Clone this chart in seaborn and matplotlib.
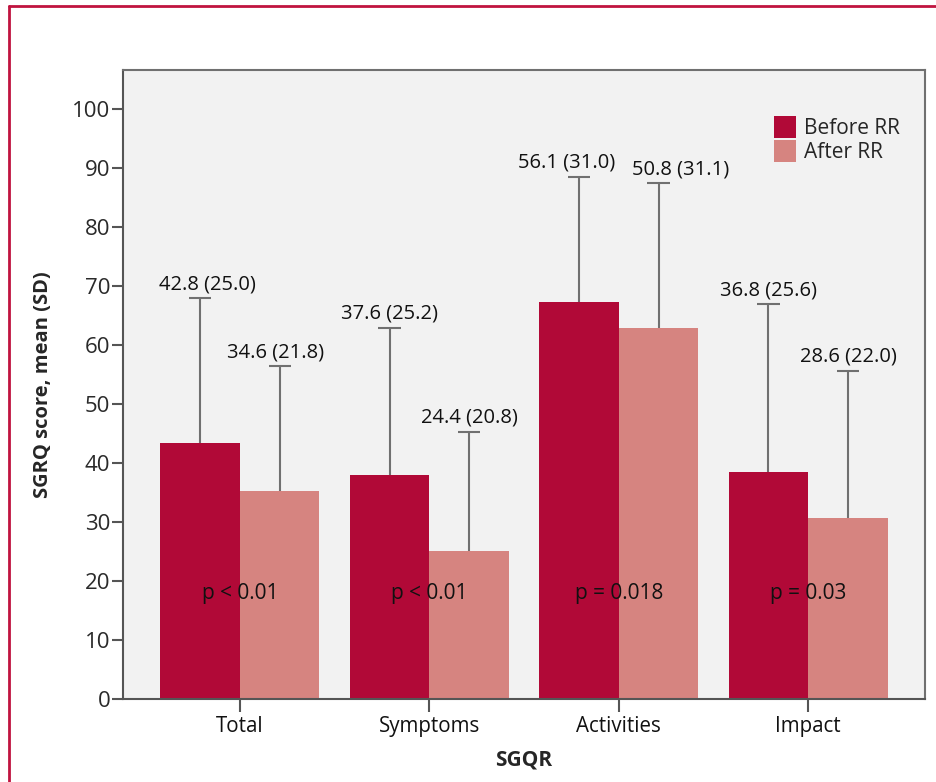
import pandas as pd
import matplotlib
matplotlib.use("Agg")
import matplotlib.pyplot as plt
import seaborn as sns
from matplotlib.lines import Line2D

categories = ["Total", "Symptoms", "Activities", "Impact"]
groups = ["Before RR", "After RR"]
before = [43.4, 38.0, 67.3, 38.5]
after = [35.3, 25.1, 62.8, 30.7]
before_top = [67.9, 62.9, 88.5, 66.9]
after_top = [56.4, 45.3, 87.4, 55.6]
labels_before = ["42.8 (25.0)", "37.6 (25.2)", "56.1 (31.0)", "36.8 (25.6)"]
labels_after = ["34.6 (21.8)", "24.4 (20.8)", "50.8 (31.1)", "28.6 (22.0)"]
pvals = ["p < 0.01", "p < 0.01", "p = 0.018", "p = 0.03"]
yticks = [0, 10, 20, 30, 40, 50, 60, 70, 80, 90, 100]

df = pd.DataFrame({
    "SGQR": categories * 2,
    "group": [groups[0]] * 4 + [groups[1]] * 4,
    "score": before + after,
})

sns.set_theme(style="white")
plt.rcParams['font.family'] = ['Open Sans', 'DejaVu Sans']

colors = ["#b10937", "#d68480"]
fig = plt.figure(figsize=(9.36, 7.82), dpi=100)
ax = fig.add_axes([0.1314, 0.1061, 0.8569, 0.8044])
ax.set_facecolor("#f2f2f2")

sns.barplot(data=df, x="SGQR", y="score", hue="group", palette=colors,
            width=0.84, saturation=1, errorbar=None, linewidth=0, ax=ax, zorder=2)

# upper error whiskers and value labels (nudges in points, to keep labels apart)
tops = before_top + after_top
vals = before + after
texts = labels_before + labels_after
nudge = [5, 0, -9, 0, -3, 0, 16, 0]
bars = [p for p in ax.patches if p.get_height() > 0][:8]
for bar, v, t, lab, dx in zip(bars, vals, tops, texts, nudge):
    cx = bar.get_x() + bar.get_width() / 2
    hw = bar.get_width() * 0.14
    ax.vlines(cx, v, t, color="#707070", lw=1.5, zorder=1)
    ax.hlines(t, cx - hw, cx + hw, color="#707070", lw=1.5, zorder=1)
    ax.annotate(lab, (cx, t), xytext=(dx, 3), textcoords="offset points",
                ha="center", va="bottom", fontsize=14.5, color="#111111")

for i, p in enumerate(pvals):
    ax.text(i, 17.8, p, ha="center", va="center", fontsize=15, color="#111111", zorder=3)

ax.set_xlim(-0.617, 3.617)
ax.set_ylim(0, 106.6)
ax.set_yticks(yticks)
ax.tick_params(axis="y", direction="out", length=8, width=1.5, color="#555555",
               labelsize=16, labelcolor="#2a2a2a", pad=1, left=True)
ax.tick_params(axis="x", direction="out", length=9, width=1.5, color="#555555",
               labelsize=14.8, labelcolor="#111111", pad=3, bottom=True)
for s in ax.spines.values():
    s.set_color("#707070")
    s.set_linewidth(1.5)
ax.spines["bottom"].set_color("#555555")
ax.spines["left"].set_color("#555555")

ax.set_xlabel("SGQR", fontsize=15, fontweight="bold", labelpad=9)
ax.set_ylabel("SGRQ score, mean (SD)", fontsize=14.5, fontweight="bold", labelpad=14)

ax.legend(title=None, loc="upper right", bbox_to_anchor=(0.969, 0.927), frameon=False,
          fontsize=15, handlelength=1.05, handleheight=1.25, labelspacing=0.05,
          handletextpad=0.4, borderaxespad=0, borderpad=0)

# outer red frame
fc = "#c0133f"
fig.add_artist(Line2D([8.5 / 936, 1.0], [1 - 6 / 782, 1 - 6 / 782], color=fc, lw=2,
                      transform=fig.transFigure))
fig.add_artist(Line2D([8.5 / 936, 8.5 / 936], [0, 1 - 6 / 782], color=fc, lw=2,
                      transform=fig.transFigure))

fig.savefig("out.png", dpi=100)
